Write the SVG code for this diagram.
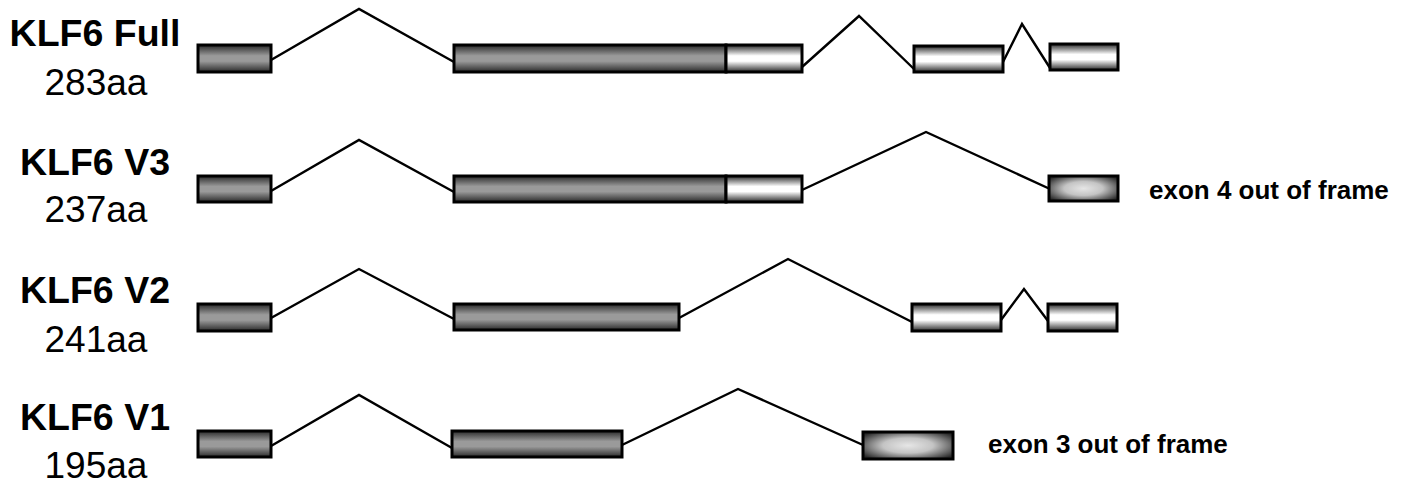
<svg xmlns="http://www.w3.org/2000/svg" width="1407" height="485" viewBox="0 0 1407 485">
<defs>
<linearGradient id="gDark" x1="0" y1="0" x2="0" y2="1">
<stop offset="0" stop-color="#2a2a2a"/><stop offset="0.4" stop-color="#9a9a9a"/><stop offset="0.6" stop-color="#9a9a9a"/><stop offset="1" stop-color="#2a2a2a"/>
</linearGradient>
<linearGradient id="gWhite" x1="0" y1="0" x2="0" y2="1">
<stop offset="0" stop-color="#2a2a2a"/><stop offset="0.4" stop-color="#ffffff"/><stop offset="0.6" stop-color="#ffffff"/><stop offset="1" stop-color="#2a2a2a"/>
</linearGradient>
<radialGradient id="gOut" cx="0.5" cy="0.5" r="0.62">
<stop offset="0" stop-color="#e6e6e6"/><stop offset="0.45" stop-color="#c4c4c4"/><stop offset="1" stop-color="#2a2a2a"/>
</radialGradient>
</defs>
<style>
.ex{stroke:#000;stroke-width:3}
.d{fill:url(#gDark)}
.w{fill:url(#gWhite)}
.o{fill:url(#gOut)}
.ln{fill:none;stroke:#000;stroke-width:2.4}
.t1{font-family:"Liberation Sans",Arial,sans-serif;font-weight:bold;font-size:37.5px;fill:#000;text-anchor:middle}
.t2{font-family:"Liberation Sans",Arial,sans-serif;font-size:37px;fill:#000;text-anchor:middle}
.t3{font-family:"Liberation Sans",Arial,sans-serif;font-weight:bold;font-size:26px;fill:#000}
</style>
<g id="connectors">
<polyline class="ln" points="271,60 359,9 454,62"/>
<polyline class="ln" points="802,67 859,16 914,69"/>
<polyline class="ln" points="1003,62 1022,24 1050,68"/>
<polyline class="ln" points="271,191 359,140 454,192"/>
<polyline class="ln" points="802,190 926,132 1050,189"/>
<polyline class="ln" points="271,318 359,269 454,319"/>
<polyline class="ln" points="679,318 788,259 912,322"/>
<polyline class="ln" points="1001,320 1024,289 1048,321"/>
<polyline class="ln" points="271,446 359,395 452,448"/>
<polyline class="ln" points="622,445 738,389 863,445"/>
</g>
<g id="row-full">
<text class="t1" x="95" y="46">KLF6 Full</text>
<text class="t2" x="96" y="95">283aa</text>
<rect class="ex d" x="198" y="45" width="73" height="27"/>
<rect class="ex d" x="454" y="45" width="272" height="27"/>
<rect class="ex w" x="726" y="45" width="76" height="27"/>
<rect class="ex w" x="914" y="46" width="89" height="26"/>
<rect class="ex w" x="1050" y="44" width="68" height="26"/>
</g>
<g id="row-v3">
<text class="t1" x="95" y="175">KLF6 V3</text>
<text class="t2" x="96" y="222">237aa</text>
<rect class="ex d" x="198" y="176" width="73" height="26"/>
<rect class="ex d" x="454" y="176" width="272" height="26"/>
<rect class="ex w" x="726" y="176" width="76" height="26"/>
<rect class="ex o" x="1049" y="176" width="69" height="25"/>
<text class="t3" x="1149" y="199">exon 4 out of frame</text>
</g>
<g id="row-v2">
<text class="t1" x="95" y="303">KLF6 V2</text>
<text class="t2" x="96" y="352">241aa</text>
<rect class="ex d" x="198" y="304" width="73" height="27"/>
<rect class="ex d" x="454" y="304" width="225" height="26"/>
<rect class="ex w" x="912" y="304" width="89" height="27"/>
<rect class="ex w" x="1048" y="304" width="69" height="27"/>
</g>
<g id="row-v1">
<text class="t1" x="95" y="430">KLF6 V1</text>
<text class="t2" x="96" y="478">195aa</text>
<rect class="ex d" x="198" y="431" width="73" height="26"/>
<rect class="ex d" x="452" y="431" width="170" height="26"/>
<rect class="ex o" x="863" y="432" width="90" height="27"/>
<text class="t3" x="988" y="453">exon 3 out of frame</text>
</g>
</svg>
